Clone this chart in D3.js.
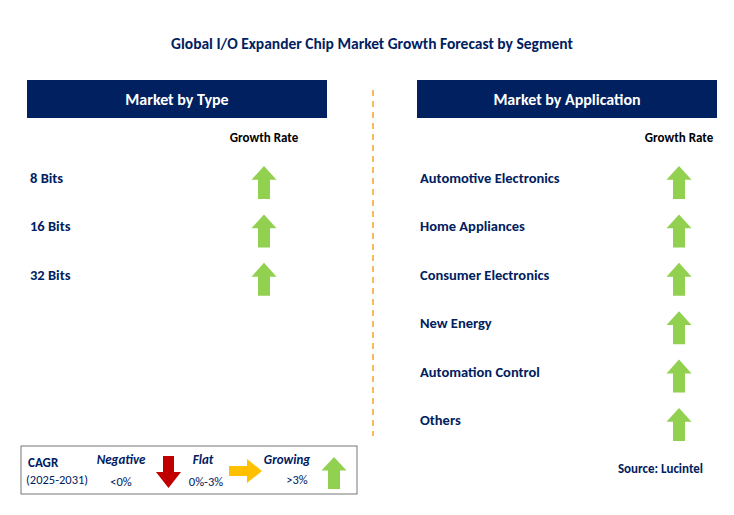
<!DOCTYPE html>
<html><head><meta charset="utf-8">
<script src="https://cdn.jsdelivr.net/npm/d3@7"></script>
<style>body{margin:0;background:#fff}text{font-family:Calibri,Carlito,"Open Sans",Arial,sans-serif}</style>
</head><body><svg id="c" width="734" height="515"></svg>
<script>
const typeLabels = ["8 Bits", "16 Bits", "32 Bits"];
const typeGrowth = ["Growing", "Growing", "Growing"];
const appLabels = ["Automotive Electronics", "Home Appliances", "Consumer Electronics", "New Energy", "Automation Control", "Others"];
const appGrowth = ["Growing", "Growing", "Growing", "Growing", "Growing", "Growing"];

const navy = "#002060", green = "#92d050", red = "#c00000", amber = "#ffc000";
const svg = d3.select("#c");

svg.append("text").attr("x", 372).attr("y", 49).attr("text-anchor", "middle")
    .attr("font-size", 15.5).attr("font-weight", "bold").attr("fill", navy)
    .text("Global I/O Expander Chip Market Growth Forecast by Segment");

svg.append("line").attr("x1", 373).attr("x2", 373).attr("y1", 90).attr("y2", 436)
    .attr("stroke", "#f5a623").attr("stroke-width", 1.5).attr("stroke-dasharray", "6,5");

function upArrow(g, cx, top, h, fill) {
    const w = 25, sw = 12, hh = h * 0.42;
    g.append("path").attr("fill", fill)
        .attr("d", `M${cx},${top} L${cx + w / 2},${top + hh} L${cx + sw / 2},${top + hh} L${cx + sw / 2},${top + h} L${cx - sw / 2},${top + h} L${cx - sw / 2},${top + hh} L${cx - w / 2},${top + hh} Z`);
}

function panel(x0, title, labels, growth, arrowX) {
    const g = svg.append("g");
    g.append("rect").attr("x", x0).attr("y", 80).attr("width", 300).attr("height", 38).attr("fill", navy);
    g.append("text").attr("x", x0 + 150).attr("y", 105).attr("text-anchor", "middle")
        .attr("fill", "#fff").attr("font-size", 16).attr("font-weight", "bold").text(title);
    g.append("text").attr("x", arrowX).attr("y", 142).attr("text-anchor", "middle")
        .attr("font-size", 13).attr("font-weight", "bold").attr("fill", "#000").text("Growth Rate");
    const y = d3.scalePoint().domain(d3.range(6)).range([178, 420]);
    labels.forEach((lab, i) => {
        g.append("text").attr("x", x0 + 3).attr("y", y(i) + 5).attr("font-size", 14.5)
            .attr("font-weight", "bold").attr("fill", navy).text(lab);
        if (growth[i] === "Growing") upArrow(g, arrowX, y(i) - 12, 33, green);
    });
}
panel(27, "Market by Type", typeLabels, typeGrowth, 264);
panel(417, "Market by Application", appLabels, appGrowth, 679);

// legend
const lg = svg.append("g");
lg.append("rect").attr("x", 21).attr("y", 446).attr("width", 336).attr("height", 48)
    .attr("fill", "#fff").attr("stroke", "#777").attr("stroke-width", 1);
const t = (x, y, s, o = {}) => lg.append("text").attr("x", x).attr("y", y).attr("font-size", o.fs || 12.5)
    .attr("font-weight", o.b ? "bold" : "normal").attr("font-style", o.i ? "italic" : "normal")
    .attr("text-anchor", o.a || "start").attr("fill", navy).text(s);
t(28, 467, "CAGR", {b: 1, fs: 13});
t(26, 484, "(2025-2031)", {fs: 12.5});
t(121, 464, "Negative", {b: 1, i: 1, a: "middle", fs: 13});
t(121, 486, "<0%", {a: "middle", fs: 12.5});
t(203, 464, "Flat", {b: 1, i: 1, a: "middle", fs: 13});
t(206, 486, "0%-3%", {a: "middle", fs: 12.5});
t(287, 464, "Growing", {b: 1, i: 1, a: "middle", fs: 13});
t(297, 484, ">3%", {a: "middle", fs: 12.5});
lg.append("path").attr("fill", red)
    .attr("d", "M163,456 L174,456 L174,472 L181,472 L168.5,488 L156,472 L163,472 Z");
lg.append("path").attr("fill", amber)
    .attr("d", "M229,466 L247,466 L247,459 L262,471 L247,483 L247,476 L229,476 Z");
upArrow(lg, 334, 457, 32, green);

svg.append("text").attr("x", 703).attr("y", 473).attr("text-anchor", "end")
    .attr("font-size", 13).attr("font-weight", "bold").attr("fill", navy).text("Source: Lucintel");
</script></body></html>
